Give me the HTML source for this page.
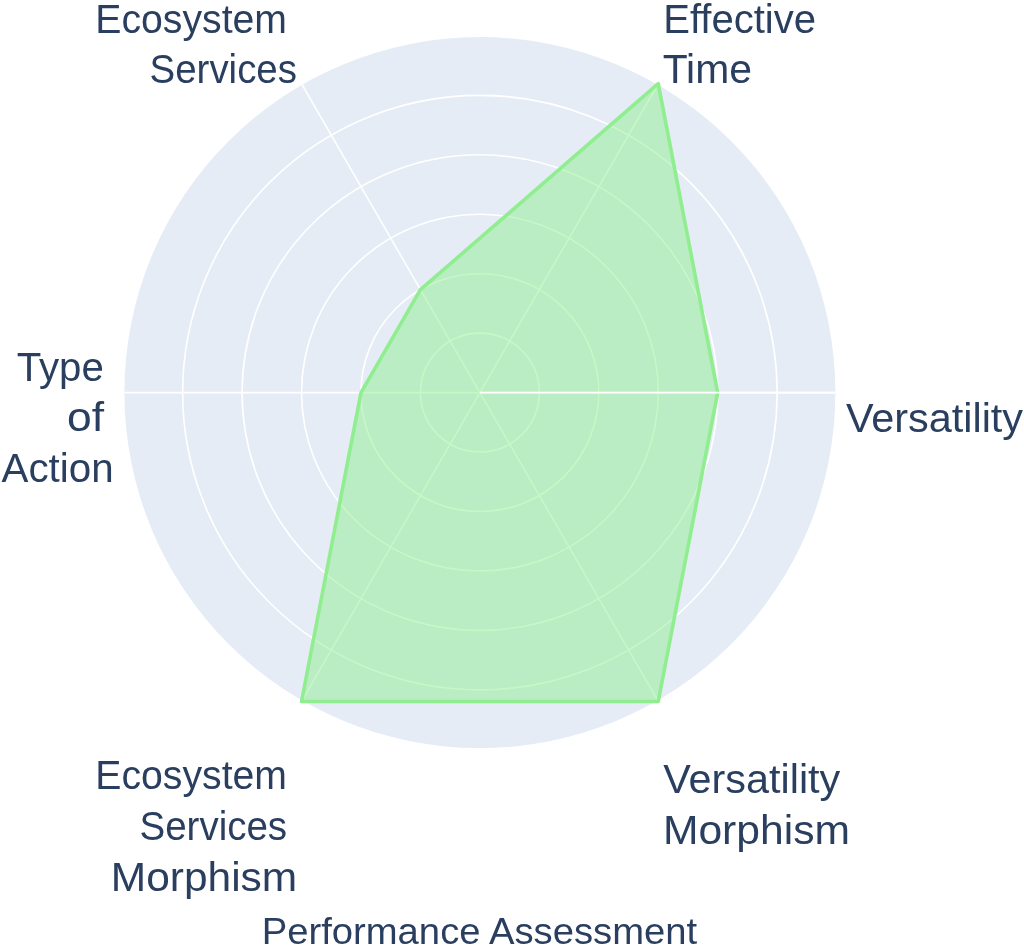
<!DOCTYPE html>
<html><head><meta charset="utf-8"><style>
html,body{margin:0;padding:0;background:#fff;width:1024px;height:948px;overflow:hidden}
svg{display:block;position:absolute;left:0;top:0}
.tx{will-change:transform}
text{font-family:"Liberation Sans",sans-serif;font-size:40px;fill:#2a3f5f}
</style></head><body>
<svg width="1024" height="948" viewBox="0 0 1024 948">
<rect width="1024" height="948" fill="#fff"/>
<circle cx="479.9" cy="392.6" r="355.5" fill="#e5ecf6"/>
<g stroke="#fff" stroke-width="1.6" fill="none">
<circle cx="479.90" cy="392.60" r="59.45"/>
<circle cx="479.90" cy="392.60" r="118.90"/>
<circle cx="479.90" cy="392.60" r="178.35"/>
<circle cx="479.90" cy="392.60" r="237.80"/>
<circle cx="479.90" cy="392.60" r="297.25"/>
<line x1="479.90" y1="392.60" x2="835.40" y2="392.60"/>
<line x1="479.90" y1="392.60" x2="657.65" y2="84.73"/>
<line x1="479.90" y1="392.60" x2="302.15" y2="84.73"/>
<line x1="479.90" y1="392.60" x2="124.40" y2="392.60"/>
<line x1="479.90" y1="392.60" x2="302.15" y2="700.47"/>
<line x1="479.90" y1="392.60" x2="657.65" y2="700.47"/>
</g>
<polygon points="658.25,83.69 717.70,392.60 658.25,701.51 301.55,701.51 361.00,392.60 420.45,289.63" fill="rgba(144,238,144,0.5)" stroke="#90ee90" stroke-width="3.6" stroke-linejoin="round"/>
<line x1="479.9" y1="392.6" x2="835.40" y2="392.60" stroke="#fff" stroke-width="1.8"/>
</svg>
<svg class="tx" width="1024" height="948" viewBox="0 0 1024 948">
<text x="95.36" y="32.80" textLength="191.59" lengthAdjust="spacingAndGlyphs">Ecosystem</text>
<text x="149.58" y="83.20" textLength="147.36" lengthAdjust="spacingAndGlyphs">Services</text>
<text x="663.20" y="32.50" textLength="152.89" lengthAdjust="spacingAndGlyphs">Effective</text>
<text x="662.68" y="82.60" textLength="89.26" lengthAdjust="spacingAndGlyphs">Time</text>
<text x="845.90" y="431.70" textLength="177.18" lengthAdjust="spacingAndGlyphs">Versatility</text>
<text x="16.70" y="380.50" textLength="87.13" lengthAdjust="spacingAndGlyphs">Type</text>
<text x="66.98" y="431.20" textLength="37.01" lengthAdjust="spacingAndGlyphs">of</text>
<text x="1.60" y="481.50" textLength="111.99" lengthAdjust="spacingAndGlyphs">Action</text>
<text x="95.36" y="789.40" textLength="191.59" lengthAdjust="spacingAndGlyphs">Ecosystem</text>
<text x="139.47" y="840.20" textLength="147.66" lengthAdjust="spacingAndGlyphs">Services</text>
<text x="110.82" y="891.30" textLength="186.34" lengthAdjust="spacingAndGlyphs">Morphism</text>
<text x="663.30" y="793.00" textLength="176.98" lengthAdjust="spacingAndGlyphs">Versatility</text>
<text x="662.90" y="843.90" textLength="187.06" lengthAdjust="spacingAndGlyphs">Morphism</text>
<text x="261.73" y="943.70" textLength="435.43" lengthAdjust="spacingAndGlyphs" style="font-size:36.7px">Performance Assessment</text>
</svg>
</body></html>
